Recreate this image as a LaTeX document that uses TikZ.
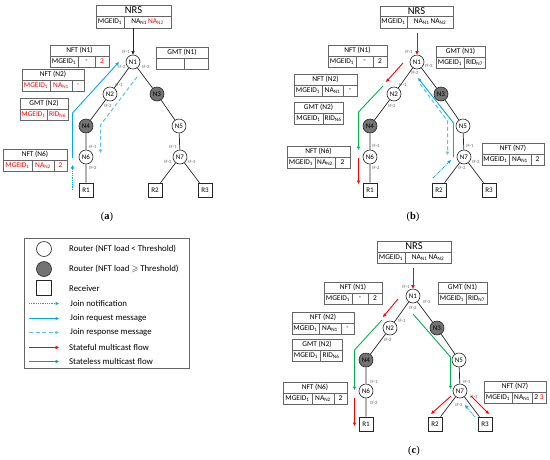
\documentclass[tikz,border=0pt]{standalone}
\usepackage{amssymb}
\usepackage{fontspec}
\setmainfont{Carlito}
\newfontfamily\capfont{Liberation Serif}
\usetikzlibrary{arrows.meta}
\definecolor{jblue}{HTML}{00A8EC}
\definecolor{jblue2}{HTML}{55C0F0}
\definecolor{sgreen}{HTML}{00B050}
\definecolor{sred}{HTML}{FF0000}
\newcommand\sbs[1]{\textsubscript{#1}}
\newcommand\rd[1]{\textcolor{sred}{#1}}
\newcommand\nrsfont{\fontsize{10.5}{11}\selectfont}
\newcommand\cb[6]{\node[cell, minimum width={(#4-#2)*1pt}, minimum height={(#5-#3)*1pt}] (#1) at ({(#2+#4)/2},{(#3+#5)/2}) {#6};}
\newcommand\ifl[4]{\node[iflab] (#1) at (#2,#3) {#4};}
\newcommand\drawtree[1]{%
  \node[rnode] (#1n1) at (133,62) {N1};
  \node[rnode] (#1n2) at (110,94) {N2};
  \node[hnode] (#1n3) at (157,94) {N3};
  \node[hnode] (#1n4) at (86,126) {N4};
  \node[rnode] (#1n5) at (179,126) {N5};
  \node[rnode] (#1n6) at (86,157) {N6};
  \node[rnode] (#1n7) at (180,157) {N7};
  \node[recv] (#1r1) at (86,190) {R1};
  \node[recv] (#1r2) at (155,190) {R2};
  \node[recv] (#1r3) at (205,190) {R3};
  \draw[link] (#1n1)--(#1n2) (#1n1)--(#1n3) (#1n2)--(#1n4) (#1n3)--(#1n5)
    (#1n4)--(#1n6) (#1n5)--(#1n7) (#1n6)--(#1r1) (#1n7)--(#1r2) (#1n7)--(#1r3);
}
\begin{document}
\begin{tikzpicture}[x=1pt,y=-1pt,
  rnode/.style={circle, draw=black!85, line width=0.6pt, fill=white, minimum size=14pt, inner sep=0pt, font=\fontsize{7}{8}\selectfont},
  hnode/.style={rnode, fill=black!55},
  recv/.style={rectangle, draw=black!85, line width=0.6pt, fill=white, minimum size=14pt, inner sep=0pt, font=\fontsize{7}{8}\selectfont},
  link/.style={draw=black!85, line width=0.7pt},
  cell/.style={rectangle, draw=black!60, line width=0.5pt, inner sep=0pt, font=\fontsize{7.4}{8}\selectfont},
  iflab/.style={font=\fontsize{4.8}{5}\selectfont, text=black!60, inner sep=0pt},
  tip/.style={-{Triangle[length=3.5pt,width=3pt]}},
  jnote/.style={tip, draw=jblue, line width=0.9pt, dash pattern=on 0.9pt off 0.9pt},
  jreq/.style={tip, draw=jblue, line width=0.9pt},
  jresp/.style={tip, draw=jblue2, line width=1pt, dash pattern=on 4pt off 2.5pt},
  sful/.style={tip, draw=sred, line width=0.9pt},
  sless/.style={tip, draw=sgreen, line width=0.9pt},
  blk/.style={tip, draw=black!85, line width=0.8pt},
  legtext/.style={anchor=west, inner sep=0pt, font=\fontsize{8.8}{10}\selectfont},
  captext/.style={font=\capfont\fontsize{10.5}{12}\selectfont}
]
\useasboundingbox (0,0) rectangle (550,459);

% ================= Panel (a) =================
\drawtree{a}
\cb{anrsh}{96}{5}{171}{16}{\nrsfont NRS}
\cb{anrs1}{96}{16}{124}{28}{MGEID\sbs{1}}
\cb{anrs2}{124}{16}{171}{28}{NA\sbs{N1}\,\rd{NA\sbs{N2}}}
\cb{anft1h}{50}{45}{109}{56}{NFT (N1)}
\cb{anft1a}{50}{56}{78}{67}{MGEID\sbs{1}}
\cb{anft1b}{78}{56}{95}{67}{-}
\cb{anft1c}{95}{56}{109}{67}{\rd{2}}
\cb{agmt1h}{156}{47}{208}{58}{GMT (N1)}
\cb{agmt1a}{156}{58}{184}{69}{}
\cb{agmt1b}{184}{58}{208}{69}{}
\cb{anft2h}{22}{69}{84}{80}{NFT (N2)}
\cb{anft2a}{22}{80}{50}{91}{\rd{MGEID\sbs{1}}}
\cb{anft2b}{50}{80}{72}{91}{\rd{NA\sbs{N1}}}
\cb{anft2c}{72}{80}{84}{91}{\rd{-}}
\cb{agmt2h}{20}{98}{68}{109}{GMT (N2)}
\cb{agmt2a}{20}{109}{47}{120}{\rd{MGEID\sbs{1}}}
\cb{agmt2b}{47}{109}{68}{120}{\rd{RID\sbs{N6}}}
\cb{anft6h}{3}{149}{67}{160}{NFT (N6)}
\cb{anft6a}{3}{160}{32}{171}{\rd{MGEID\sbs{1}}}
\cb{anft6b}{32}{160}{54}{171}{\rd{NA\sbs{N2}}}
\cb{anft6c}{54}{160}{67}{171}{\rd{2}}
\ifl{ai1}{126}{52}{IF-1}\ifl{ai2}{122}{67}{IF-2}\ifl{ai3}{146}{67}{IF-3}
\ifl{ai4}{119}{85}{IF-1}\ifl{ai5}{108}{106}{IF-2}
\ifl{ai6}{93}{147}{IF-1}\ifl{ai7}{93}{168}{IF-2}
\ifl{ai8}{173}{147}{IF-1}\ifl{ai9}{168}{162}{IF-2}\ifl{ai10}{192}{162}{IF-3}
\coordinate (anrsb) at (133,28);
\draw[blk] (anrsb) -- (an1);
\coordinate (aq1) at (72.5,190); \coordinate (aq2) at (72.5,165);
\draw[jnote] (aq1) -- (aq2);
\coordinate (aq3) at (72.5,158); \coordinate (aq4) at (72.5,113); \coordinate (aq5) at (119,62);
\draw[jreq] (aq3) -- (aq4) -- (aq5);
\coordinate (aq6) at (137,77); \coordinate (aq7) at (100.5,125); \coordinate (aq8) at (100.5,153);
\draw[jresp] (aq6) -- (aq7) -- (aq8);
\node[captext] (capa) at (107,217) {(\textbf{a})};

% ================= Panel (b) =================
\begin{scope}[shift={(284,0)}]
\drawtree{b}
\end{scope}
\cb{bnrsh}{380}{6}{453}{16}{\nrsfont NRS}
\cb{bnrs1}{380}{16}{407}{28}{MGEID\sbs{1}}
\cb{bnrs2}{407}{16}{453}{28}{NA\sbs{N1}\,NA\sbs{N2}}
\cb{bnft1h}{328}{45}{387}{56}{NFT (N1)}
\cb{bnft1a}{328}{56}{356}{67}{MGEID\sbs{1}}
\cb{bnft1b}{356}{56}{373}{67}{-}
\cb{bnft1c}{373}{56}{387}{67}{2}
\cb{bgmt1h}{436}{46}{485}{57}{GMT (N1)}
\cb{bgmt1a}{436}{57}{464}{68}{MGEID\sbs{1}}
\cb{bgmt1b}{464}{57}{485}{68}{RID\sbs{N7}}
\cb{bnft2h}{294}{74}{357}{85}{NFT (N2)}
\cb{bnft2a}{294}{85}{322}{96}{MGEID\sbs{1}}
\cb{bnft2b}{322}{85}{343}{96}{NA\sbs{N1}}
\cb{bnft2c}{343}{85}{357}{96}{-}
\cb{bgmt2h}{294}{102}{343}{113}{GMT (N2)}
\cb{bgmt2a}{294}{113}{323}{124}{MGEID\sbs{1}}
\cb{bgmt2b}{323}{113}{343}{124}{RID\sbs{N6}}
\cb{bnft6h}{287}{146}{350}{157}{NFT (N6)}
\cb{bnft6a}{287}{157}{315}{168}{MGEID\sbs{1}}
\cb{bnft6b}{315}{157}{335}{168}{NA\sbs{N2}}
\cb{bnft6c}{335}{157}{350}{168}{2}
\cb{bnft7h}{482}{143}{544}{154}{NFT (N7)}
\cb{bnft7a}{482}{154}{509}{165}{MGEID\sbs{1}}
\cb{bnft7b}{509}{154}{531}{165}{NA\sbs{N1}}
\cb{bnft7c}{531}{154}{544}{165}{2}
\ifl{bi1}{409}{52}{IF-1}\ifl{bi2}{415}{73}{IF-2}\ifl{bi3}{429}{66}{IF-3}
\ifl{bi4}{403}{85}{IF-1}\ifl{bi5}{392}{106}{IF-2}
\ifl{bi6}{376}{146}{IF-1}\ifl{bi7}{376}{168}{IF-2}
\ifl{bi8}{470}{146}{IF-1}\ifl{bi9}{462}{168}{IF-2}\ifl{bi10}{476}{162}{IF-3}
\coordinate (bnrsb) at (417,33);
\draw[sful] (bnrsb) -- (bn1);
\coordinate (bq1) at (403,63); \coordinate (bq2) at (386,82);
\draw[sful] (bq1) -- (bq2);
\coordinate (bq3) at (383,86); \coordinate (bq4) at (358.5,112); \coordinate (bq5) at (358.5,150);
\draw[sless] (bq3) -- (bq4) -- (bq5);
\coordinate (bq6) at (358.5,158); \coordinate (bq7) at (358.5,184);
\draw[sful] (bq6) -- (bq7);
\coordinate (bq8) at (433,178); \coordinate (bq9) at (451,160);
\draw[jnote] (bq8) -- (bq9);
\coordinate (bq10) at (453.5,157); \coordinate (bq11) at (453.5,123); \coordinate (bq12) at (418,78);
\draw[jreq] (bq10) -- (bq11) -- (bq12);
\coordinate (bq13) at (420,84); \coordinate (bq14) at (447.5,121); \coordinate (bq15) at (447.5,155);
\draw[jresp] (bq13) -- (bq14) -- (bq15);
\node[captext] (capb) at (413,217) {(\textbf{b})};

% ================= Legend =================
\node[draw=black!60, line width=0.6pt, minimum width=165pt, minimum height=130pt, inner sep=0pt] (legbox) at (106.5,303) {};
\node[rnode, minimum size=15pt] (lg1) at (44,249) {};
\node[hnode, minimum size=15pt] (lg2) at (44,269) {};
\node[recv, minimum size=15pt] (lg3) at (44,288) {};
\node[legtext] (lt1) at (69,249) {Router (NFT load < Threshold)};
\node[legtext] (lt2) at (69,269) {Router (NFT load $\geqslant$ Threshold)};
\node[legtext] (lt3) at (69,288) {Receiver};
\coordinate (ll1a) at (29,303.5); \coordinate (ll1b) at (59,303.5);
\coordinate (ll2a) at (29,318.5); \coordinate (ll2b) at (59,318.5);
\coordinate (ll3a) at (29,332.5); \coordinate (ll3b) at (59,332.5);
\coordinate (ll4a) at (29,347.5); \coordinate (ll4b) at (59,347.5);
\coordinate (ll5a) at (29,361.5); \coordinate (ll5b) at (59,361.5);
\draw[jnote] (ll1a) -- (ll1b);
\draw[jreq] (ll2a) -- (ll2b);
\draw[jresp] (ll3a) -- (ll3b);
\draw[sful] (ll4a) -- (ll4b);
\draw[sless] (ll5a) -- (ll5b);
\node[legtext] (lt4) at (70,303) {Join notification};
\node[legtext] (lt5) at (70,318) {Join request message};
\node[legtext] (lt6) at (70,332) {Join response message};
\node[legtext] (lt7) at (69,347) {Stateful multicast flow};
\node[legtext] (lt8) at (69,361) {Stateless multicast flow};

% ================= Panel (c) =================
\begin{scope}[shift={(280,234)}]
\drawtree{c}
\end{scope}
\cb{cnrsh}{377}{241}{451}{252}{\nrsfont NRS}
\cb{cnrs1}{377}{252}{405}{263}{MGEID\sbs{1}}
\cb{cnrs2}{405}{252}{451}{263}{NA\sbs{N1}\,NA\sbs{N2}}
\cb{cnft1h}{324}{282}{382}{293}{NFT (N1)}
\cb{cnft1a}{324}{293}{352}{304}{MGEID\sbs{1}}
\cb{cnft1b}{352}{293}{368}{304}{-}
\cb{cnft1c}{368}{293}{382}{304}{2}
\cb{cgmt1h}{438}{282}{487}{293}{GMT (N1)}
\cb{cgmt1a}{438}{293}{466}{304}{MGEID\sbs{1}}
\cb{cgmt1b}{466}{293}{487}{304}{RID\sbs{N7}}
\cb{cnft2h}{292}{312}{354}{323}{NFT (N2)}
\cb{cnft2a}{292}{323}{319}{334}{MGEID\sbs{1}}
\cb{cnft2b}{319}{323}{341}{334}{NA\sbs{N1}}
\cb{cnft2c}{341}{323}{354}{334}{-}
\cb{cgmt2h}{292}{339}{342}{350}{GMT (N2)}
\cb{cgmt2a}{292}{350}{320}{361}{MGEID\sbs{1}}
\cb{cgmt2b}{320}{350}{342}{361}{RID\sbs{N6}}
\cb{cnft6h}{283}{382}{347}{393}{NFT (N6)}
\cb{cnft6a}{283}{393}{312}{404}{MGEID\sbs{1}}
\cb{cnft6b}{312}{393}{334}{404}{NA\sbs{N2}}
\cb{cnft6c}{334}{393}{347}{404}{2}
\cb{cnft7h}{484}{381}{546}{392}{NFT (N7)}
\cb{cnft7a}{484}{392}{512}{403}{MGEID\sbs{1}}
\cb{cnft7b}{512}{392}{532}{403}{NA\sbs{N1}}
\cb{cnft7c}{532}{392}{546}{403}{2 \rd{3}}
\ifl{ci1}{406}{287}{IF-1}\ifl{ci2}{413}{308}{IF-2}\ifl{ci3}{427}{302}{IF-3}
\ifl{ci4}{402}{321}{IF-1}\ifl{ci5}{388}{340}{IF-2}
\ifl{ci6}{374}{382}{IF-1}\ifl{ci7}{374}{403}{IF-2}
\ifl{ci8}{467}{382}{IF-1}\ifl{ci9}{459}{405}{IF-2}\ifl{ci10}{474}{397}{IF-3}
\coordinate (cnrsb) at (413,268);
\draw[sful] (cnrsb) -- (cn1);
\coordinate (cq1) at (398,299); \coordinate (cq2) at (383,317);
\draw[sful] (cq1) -- (cq2);
\coordinate (cq3) at (382,320); \coordinate (cq4) at (354.5,350); \coordinate (cq5) at (354.5,390);
\draw[sless] (cq3) -- (cq4) -- (cq5);
\coordinate (cq6) at (354.5,398); \coordinate (cq7) at (354.5,426);
\draw[sful] (cq6) -- (cq7);
\coordinate (cq8) at (413,314); \coordinate (cq9) at (450.5,357); \coordinate (cq10) at (450.5,389);
\draw[sless] (cq8) -- (cq9) -- (cq10);
\coordinate (cq11) at (451,396); \coordinate (cq12) at (431,414);
\draw[sful] (cq11) -- (cq12);
\coordinate (cq13) at (471,396); \coordinate (cq14) at (489,414);
\draw[sful] (cq13) -- (cq14);
\coordinate (cq15) at (475,417); \coordinate (cq16) at (465,405);
\draw[jnote] (cq15) -- (cq16);
\node[captext] (capc) at (414,451) {(\textbf{c})};
\end{tikzpicture}
\end{document}
